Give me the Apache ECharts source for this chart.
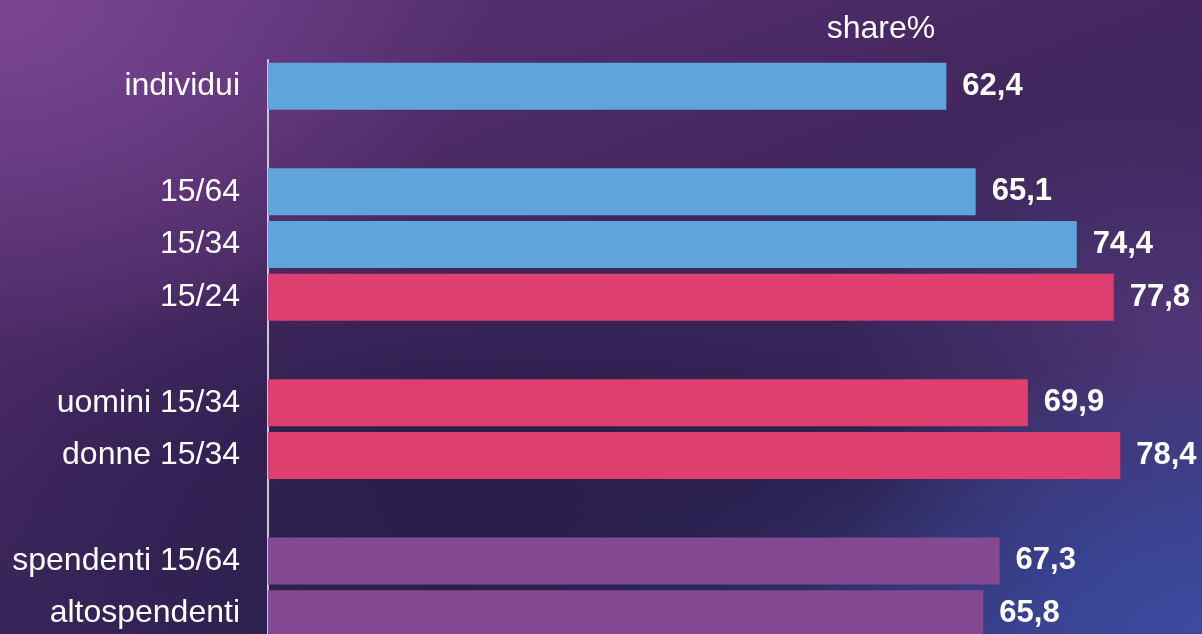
<!DOCTYPE html>
<html>
<head>
<meta charset="utf-8">
<script src="https://cdn.jsdelivr.net/npm/echarts@6/dist/echarts.min.js"></script>
<style>
  html, body { margin: 0; padding: 0; }
  #chart {
    width: 1202px; height: 634px;
    background:
      radial-gradient(ellipse 700px 500px at 0px 0px, rgba(125,70,150,0.95), rgba(125,70,150,0) 70%),
      radial-gradient(ellipse 500px 360px at 1202px 634px, rgba(60,75,160,1), rgba(60,75,160,0) 80%),
      radial-gradient(ellipse 420px 300px at 1180px 330px, rgba(95,62,135,0.7), rgba(95,62,135,0) 85%),
      radial-gradient(ellipse 600px 300px at 450px 480px, rgba(38,28,72,0.9), rgba(38,28,72,0) 80%),
      linear-gradient(160deg, #5e3478 0%, #44275f 40%, #2e2352 70%, #353d85 100%);
  }
</style>
</head>
<body>
<div id="chart"></div>
<script>
  // '' entries are the empty spacer rows between groups
  const categories = ['individui', '', '15/64', '15/34', '15/24', '', 'uomini 15/34', 'donne 15/34', '', 'spendenti 15/64', 'altospendenti']
  const values = [62.4, null, 65.1, 74.4, 77.8, null, 69.9, 78.4, null, 67.3, 65.8]
  const barColors = ['#5fa5dc', null, '#5fa5dc', '#5fa5dc', '#dd3f6f', null, '#dd3f6f', '#dd3f6f', null, '#834a93', '#834a93']

  const FONT = '"Liberation Sans", Arial, sans-serif'

  const myChart = echarts.init(document.getElementById('chart'))

  const option = {
    backgroundColor: 'transparent',
    title: {
      text: 'share%',
      left: 876,
      top: 8,
      textAlign: 'center',
      textStyle: { color: '#ffffff', fontSize: 32, fontWeight: 'normal', fontFamily: FONT }
    },
    grid: { left: 268, right: 10, top: 60, height: 580, outerBoundsMode: 'none', containLabel: false },
    xAxis: {
      type: 'value',
      min: 0,
      max: 85,
      show: false
    },
    yAxis: {
      type: 'category',
      data: categories,
      inverse: true,
      axisLine: { show: true, lineStyle: { color: '#c8c6d2', width: 2 } },
      axisTick: { show: false },
      axisLabel: {
        color: '#ffffff',
        fontSize: 32,
        margin: 28,
        fontFamily: FONT
      },
      splitLine: { show: false }
    },
    series: [{
      type: 'bar',
      barWidth: 47,
      data: values.map((v, i) => ({
        value: v,
        itemStyle: { color: barColors[i] }
      })),
      label: {
        show: true,
        position: 'right',
        distance: 16,
        color: '#ffffff',
        fontSize: 31,
        fontWeight: 'bold',
        fontFamily: FONT,
        formatter: p => String(p.value).replace('.', ',')
      },
      silent: true
    }],
    animation: false
  }

  myChart.setOption(option)
</script>
</body>
</html>
